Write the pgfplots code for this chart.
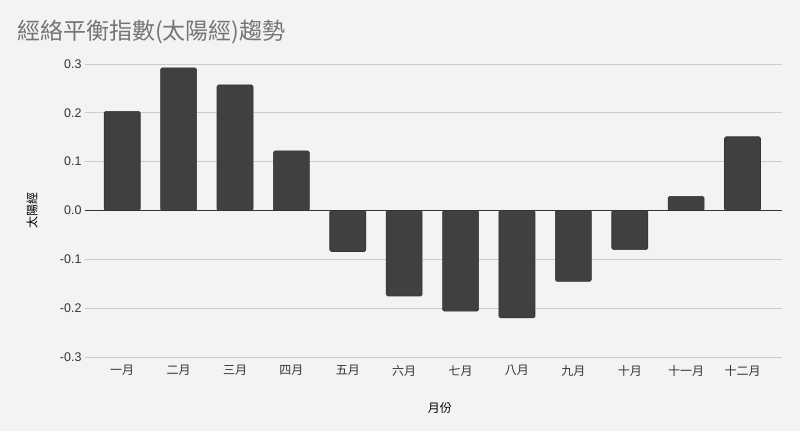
\documentclass[border=0pt]{standalone}
\usepackage{pgfplots}
\pgfplotsset{compat=1.18}
\usepackage{fontspec}
\setmainfont{Liberation Sans}
\newfontfamily\cjk{Noto Sans CJK TC}
\definecolor{bg}{HTML}{F3F3F3}
\definecolor{barc}{HTML}{404040}
\definecolor{gridc}{HTML}{CCCCCC}
\definecolor{titlec}{HTML}{757575}
\definecolor{tickc}{HTML}{333333}
\begin{document}
\begin{tikzpicture}[x=1pt,y=1pt]
\fill[bg] (0,0) rectangle (800,431);
\node[anchor=west,text=titlec,inner sep=0pt] at (17,399) {\cjk\fontsize{23}{27}\selectfont 經絡平衡指數(太陽經)趨勢};
\begin{axis}[
    at={(85pt,74pt)}, anchor=south west,
    scale only axis, width=697pt, height=293pt,
    ybar, bar width=36pt,
    ymin=-0.3, ymax=0.3, xmin=-0.66, xmax=11.7,
    ytick={-0.3,-0.2,-0.1,0,0.1,0.2,0.3},
    xtick={0,...,11},
    xticklabels={一月,二月,三月,四月,五月,六月,七月,八月,九月,十月,十一月,十二月},
    xticklabel style={font=\cjk\fontsize{12}{14}\selectfont, text=tickc, yshift=-5pt},
    yticklabel style={font=\fontsize{12.5}{14}\selectfont, text=tickc,
        /pgf/number format/.cd, fixed, fixed zerofill, precision=1},
    /pgf/number format/assume math mode=true,
    axis line style={draw=none},
    major tick length=0pt,
    xmajorgrids=false, ymajorgrids=true,
    grid style={draw=gridc, line width=0.8pt},
    xlabel={月份}, ylabel={太陽經},
    xlabel style={font=\cjk\fontsize{12}{14}\selectfont, at={(axis description cs:0.509,0)}, anchor=north, yshift=-42pt},
    ylabel style={font=\cjk\fontsize{12}{14}\selectfont, at={(axis description cs:-0.076,0.5)}, anchor=center},
    clip=false,
]
\addplot[fill=barc, draw=barc!80!black, line width=0.6pt, rounded corners=1.5pt] coordinates {
    (0,0.203) (1,0.292) (2,0.257) (3,0.122) (4,-0.084) (5,-0.175)
    (6,-0.206) (7,-0.220) (8,-0.145) (9,-0.080) (10,0.029) (11,0.151)
};
\draw[color=tickc, line width=1pt] (axis cs:-0.66,0) -- (axis cs:11.7,0);
\end{axis}
\end{tikzpicture}
\end{document}
